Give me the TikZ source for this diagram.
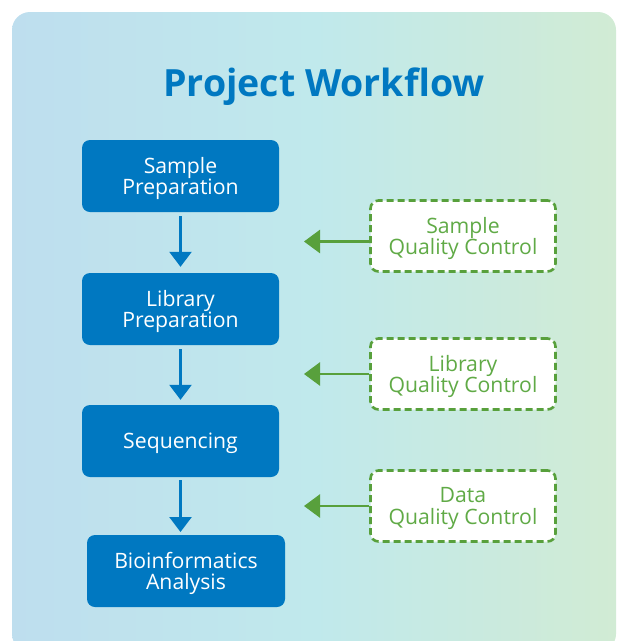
\documentclass[tikz,border=0pt]{standalone}
\usepackage{fontspec}
\setmainfont{Open Sans}
\usetikzlibrary{arrows.meta}
\definecolor{bgL}{RGB}{190,222,238}
\definecolor{bgM}{RGB}{192,233,236}
\definecolor{bgR}{RGB}{209,235,212}
\definecolor{mainblue}{RGB}{0,120,193}
\definecolor{qcgreen}{RGB}{88,160,60}
\definecolor{qctext}{RGB}{96,170,70}
\tikzset{
  boxfont/.style={font=\fontsize{21.2}{21.5}\selectfont, align=center, inner sep=0pt},
  steptext/.style={boxfont, text=white, yshift=-2.5pt},
  qctextstyle/.style={boxfont, text=qctext, yshift=-2.5pt},
  stepbox/.style={fill=mainblue, rounded corners=8pt, minimum width=197pt, minimum height=72pt,
    inner sep=0pt},
  qcbox/.style={draw=qcgreen, fill=white, line width=2.6pt, dash pattern=on 7pt off 4pt,
    rounded corners=8pt, minimum width=185pt, minimum height=71pt, inner sep=0pt},
  flowarrow/.style={draw=mainblue, line width=2.6pt, -{Triangle[width=22pt,length=15pt]}},
  qcarrow/.style={draw=qcgreen, line width=2.6pt, -{Triangle[width=23pt,length=16pt]}},
}
\begin{document}
\begin{tikzpicture}[x=1pt,y=-1pt]
\useasboundingbox (0,0) rectangle (622,641);
\begin{scope}
\clip (0,0) rectangle (622,641);
\shade[left color=bgL, right color=bgR, middle color=bgM, rounded corners=18pt] (12,12) rectangle (616,652);
\end{scope}
\node[font=\fontsize{37.5}{40}\selectfont\bfseries, text=mainblue] (title) at (324,86.5) {Project Workflow};

\node[stepbox, label={[steptext]center:{Sample\\Preparation}}] (b1) at (180.5,176) {};
\node[stepbox, label={[steptext]center:{Library\\Preparation}}] (b2) at (180.5,309) {};
\node[stepbox, label={[steptext]center:{Sequencing}}] (b3) at (180.5,441) {};
\node[stepbox, minimum width=198pt, label={[steptext]center:{Bioinformatics\\Analysis}}] (b4) at (186,571) {};

\draw[flowarrow] ([yshift=-4pt]b1.south) -- ([yshift=6pt]b2.north);
\draw[flowarrow] ([yshift=-4pt]b2.south) -- ([yshift=5pt]b3.north);
\coordinate (t3) at (180.5,532);
\draw[flowarrow] ([yshift=-3pt]b3.south) -- (t3);

\node[qcbox, label={[qctextstyle]center:{Sample\\Quality Control}}] (q1) at (463,236) {};
\node[qcbox, label={[qctextstyle]center:{Library\\Quality Control}}] (q2) at (463,374) {};
\node[qcbox, label={[qctextstyle]center:{Data\\Quality Control}}] (q3) at (463,506) {};

\coordinate (e1) at (304,241.5);
\coordinate (e2) at (304,374);
\coordinate (e3) at (304,506);
\draw[qcarrow] (q1.west |- e1) -- (e1);
\draw[qcarrow] (q2.west) -- (e2);
\draw[qcarrow] (q3.west) -- (e3);
\end{tikzpicture}
\end{document}
